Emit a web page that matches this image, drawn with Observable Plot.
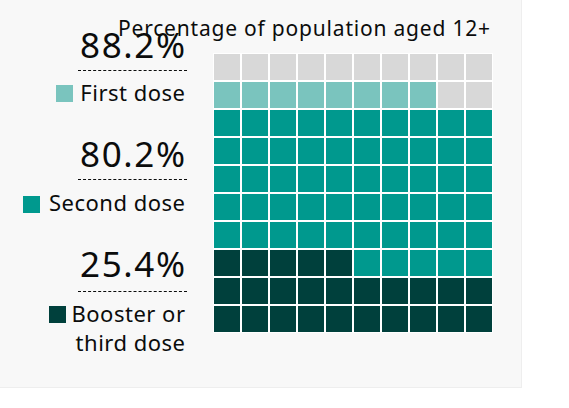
<!DOCTYPE html>
<html>
<head>
<meta charset="utf-8">
<script src="https://cdn.jsdelivr.net/npm/d3@7"></script>
<script src="https://cdn.jsdelivr.net/npm/@observablehq/plot@0.6"></script>
<style>
  body { margin: 0; background: #fff; font-family: "Noto Sans", sans-serif; color: #0b0c0c; }
  #panel { position: relative; width: 522px; height: 388px; background: #f8f8f8; border-right: 1px solid #eee; border-bottom: 1px solid #eee; box-sizing: border-box; }
  .abs { position: absolute; line-height: 1; white-space: nowrap; }
  .title { left: 118px; top: 18px; font-size: 21px; letter-spacing: 0.8px; }
  .pct { right: 336px; font-size: 35px; letter-spacing: 1.6px; margin-right: -1.6px; }
  .rule { left: 78px; width: 109px; height: 0; border-top: 1px dashed #0b0c0c; }
  .lbl { right: 336px; font-size: 22px; text-align: right; letter-spacing: 0.5px; margin-right: -0.5px; }
  .sw { width: 17px; height: 17px; }
  #waffle { position: absolute; left: 213px; top: 53px; }
</style>
</head>
<body>
<div id="panel"></div>
<script>
// values
const title = "Percentage of population aged 12+";
const doseKeys = ["first", "second", "booster"];
const doseLabels = ["First dose", "Second dose", "Booster or\nthird dose"];
const dosePercent = [88.2, 80.2, 25.4];
const fillKeys = ["none", "first", "second", "booster"];
const fillColors = ["#d8d8d8", "#7ac4be", "#00998e", "#00403c"];
const gridCols = 10;
const gridRows = 10;

// one cell per percent, filled from bottom-left
const booster = Math.round(dosePercent[2]);
const second = Math.round(dosePercent[1]);
const first = Math.round(dosePercent[0]);
const cells = d3.range(gridCols * gridRows).map(i => ({
  col: i % gridCols,
  row: Math.floor(i / gridCols),
  key: i < booster ? "booster" : i < second ? "second" : i < first ? "first" : "none"
}));

const panel = document.getElementById("panel");

const chart = Plot.plot({
  width: 280,
  height: 280,
  margin: 0,
  x: { axis: null, domain: d3.range(gridCols), padding: 0 },
  y: { axis: null, domain: d3.range(gridRows), padding: 0, reverse: true },
  color: { domain: fillKeys, range: fillColors },
  style: { background: "transparent" },
  marks: [
    Plot.cell(cells, { x: "col", y: "row", fill: "key", stroke: "white", strokeWidth: 2 })
  ]
});
chart.id = "waffle";
panel.appendChild(chart);

// legend: percentage, dashed rule, swatch + label
const legendTops = [
  { pct: 27, rule: 70, lbl: 80.5, sw: 85, swLeft: 56 },
  { pct: 136, rule: 179, lbl: 190.5, sw: 196, swLeft: 23 },
  { pct: 246, rule: 291, lbl: 301.5, sw: 306, swLeft: 49 }
];

function add(cls, css, text) {
  const el = document.createElement("div");
  el.className = "abs " + cls;
  Object.assign(el.style, css);
  if (text != null) el.textContent = text;
  panel.appendChild(el);
  return el;
}

doseKeys.forEach((k, i) => {
  const t = legendTops[i];
  add("pct", { top: t.pct + "px" }, dosePercent[i].toFixed(1) + "%");
  add("rule", { top: t.rule + "px" });
  const lines = doseLabels[i].split("\n");
  lines.forEach((line, j) => {
    add("lbl", { top: (t.lbl + j * 29) + "px" }, line);
  });
  add("sw", { top: t.sw + "px", left: t.swLeft + "px", background: fillColors[fillKeys.indexOf(k)] });
});

add("title", {}, title);
</script>
</body>
</html>
